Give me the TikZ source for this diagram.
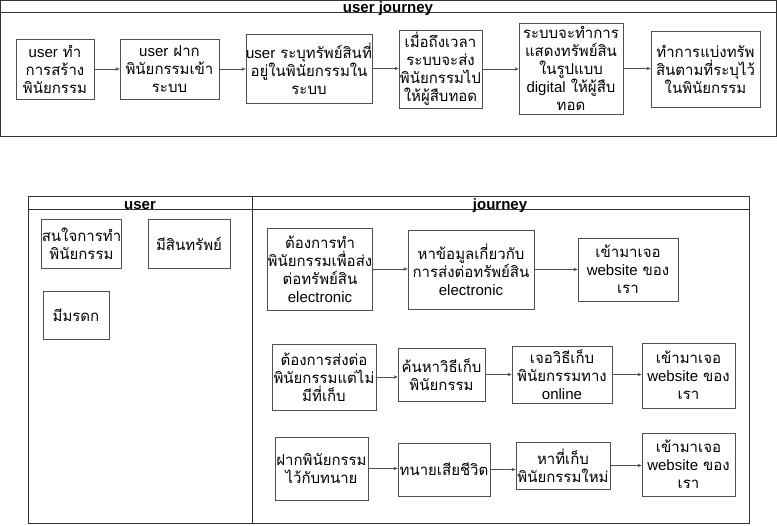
\documentclass[tikz,border=0pt]{standalone}
\usepackage{fontspec}
\setmainfont{Liberation Sans}
\newfontfamily\thf[Script=Thai]{Loma}
\newcommand\la[1]{{\rmfamily #1}}
\usetikzlibrary{arrows.meta}
\definecolor{boxc}{HTML}{505050}
\definecolor{arrc}{HTML}{505050}
\definecolor{framec}{HTML}{333333}
\tikzset{
  box/.style={draw=boxc, line width=0.8pt, align=center, inner sep=0pt,
    font=\fontsize{15}{18}\selectfont\thf},
  arr/.style={draw=arrc, line width=0.6pt, -{Stealth[length=4pt,width=3.5pt]}},
  frame/.style={draw=framec, line width=1pt},
  ttl/.style={font=\fontsize{15}{17}\selectfont\bfseries, inner sep=0pt, anchor=base}
}
\begin{document}
\begin{tikzpicture}[x=1pt,y=-1pt]
\useasboundingbox (0,0) rectangle (777,526);
% top container
\draw[frame] (0.5,1) rectangle (776,137);
\draw[frame] (0.5,13) -- (776,13);
\node[ttl] (ttop) at (388,13) {user journey};
% top row
\node[box, minimum width=78, minimum height=60] (t1) at (55,69) {\la{user} ทำ\\การสร้าง\\พินัยกรรม};
\node[box, minimum width=99, minimum height=60] (t2) at (169.5,69) {\la{user} ฝาก\\พินัยกรรมเข้า\\ระบบ};
\node[box, minimum width=126, minimum height=69] (t3) at (309,68.5) {\la{user} ระบุทรัพย์สินที่\\อยู่ในพินัยกรรมใน\\ระบบ};
\node[box, minimum width=83, minimum height=78] (t4) at (440.5,69) {เมื่อถึงเวลา\\ระบบจะส่ง\\พินัยกรรมไป\\ให้ผู้สืบทอด};
\node[box, minimum width=104, minimum height=91] (t5) at (571,68.5) {ระบบจะทำการ\\แสดงทรัพย์สิน\\ในรูปแบบ\\\la{digital} ให้ผู้สืบ\\ทอด};
\node[box, minimum width=109, minimum height=76] (t6) at (705.5,69) {ทำการแบ่งทรัพ\\สินตามที่ระบุไว้\\ในพินัยกรรม};
\draw[arr] (t1.east) -- (t1.east -| t2.west);
\draw[arr] (t2.east) -- (t2.east -| t3.west);
\draw[arr] (t3.east) -- (t3.east -| t4.west);
\draw[arr] (t4.east) -- (t4.east -| t5.west);
\draw[arr] (t5.east) -- (t5.east -| t6.west);
% bottom container
\draw[frame] (28,197) rectangle (749,524);
\draw[frame] (28,210) -- (749,210);
\draw[frame] (252,197) -- (252,524);
\node[ttl] (tuser) at (140,210) {user};
\node[ttl] (tjour) at (500,210) {journey};
% user lane
\node[box, minimum width=77, minimum height=49] (u1) at (81.5,243.5) {สนใจการทำ\\พินัยกรรม};
\node[box, minimum width=82, minimum height=49] (u2) at (189,243.5) {มีสินทรัพย์};
\node[box, minimum width=66, minimum height=48] (u3) at (76,315) {มีมรดก};
% journey row 1
\node[box, minimum width=104, minimum height=82] (a1) at (320,269) {ต้องการทำ\\พินัยกรรมเพื่อส่ง\\ต่อทรัพย์สิน\\\la{electronic}};
\node[box, minimum width=126, minimum height=79] (a2) at (471,269.5) {หาข้อมูลเกี่ยวกับ\\การส่งต่อทรัพย์สิน\\\la{electronic}};
\node[box, minimum width=100, minimum height=63] (a3) at (628,269.5) {เข้ามาเจอ\\\la{website} ของ\\เรา};
\draw[arr] (a1.east) -- (a1.east -| a2.west);
\draw[arr] (a2.east) -- (a2.east -| a3.west);
% journey row 2
\node[box, minimum width=104, minimum height=66] (b1) at (324,377) {ต้องการส่งต่อ\\พินัยกรรมแต่ไม่\\มีที่เก็บ};
\node[box, minimum width=87, minimum height=53] (b2) at (441.5,374.5) {ค้นหาวิธีเก็บ\\พินัยกรรม};
\node[box, minimum width=100, minimum height=57] (b3) at (562,374.5) {เจอวิธีเก็บ\\พินัยกรรมทาง\\\la{online}};
\node[box, minimum width=93, minimum height=65] (b4) at (688.5,375.5) {เข้ามาเจอ\\\la{website} ของ\\เรา};
\draw[arr] (b1.east) -- (b1.east -| b2.west);
\draw[arr] (b2.east) -- (b2.east -| b3.west);
\draw[arr] (b3.east) -- (b3.east -| b4.west);
% journey row 3
\node[box, minimum width=93, minimum height=63] (c1) at (321.5,468.5) {ฝากพินัยกรรม\\ไว้กับทนาย};
\node[box, minimum width=92, minimum height=53] (c2) at (444,469.5) {ทนายเสียชีวิต};
\node[box, minimum width=94, minimum height=47] (c3) at (563,465.5) {หาที่เก็บ\\พินัยกรรมใหม่};
\node[box, minimum width=93, minimum height=63] (c4) at (688.5,464.5) {เข้ามาเจอ\\\la{website} ของ\\เรา};
\draw[arr] (c1.east) -- (c1.east -| c2.west);
\draw[arr] (c2.east) -- (c2.east -| c3.west);
\draw[arr] (c3.east) -- (c3.east -| c4.west);
\end{tikzpicture}
\end{document}
